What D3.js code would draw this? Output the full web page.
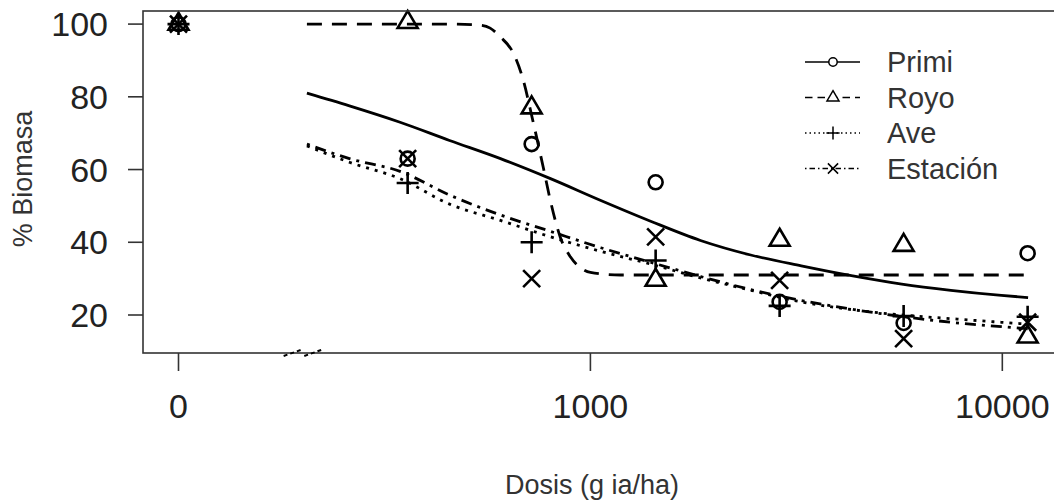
<!DOCTYPE html>
<html>
<head>
<meta charset="utf-8">
<script src="https://cdn.jsdelivr.net/npm/d3@7"></script>
<style>
  body { margin: 0; background: #fff; }
  svg text { font-family: "Liberation Sans", Arial, sans-serif; fill: #222; }
</style>
</head>
<body>
<div id="chart"></div>
<script>
// observed doses (0 = untreated control) and % biomass per cultivar
const doses    = [0, 360, 720, 1440, 2880, 5760, 11520];
const primi    = [100, 63, 67, 56.5, 23.6, 17.8, 37];
const royo     = [100, 100.5, 77, 29.6, 40.6, 39.2, 14];
const ave      = [100, 56.3, 40, 35, 22.5, 19.7, 19.5];
const estacion = [100, 63, 30, 41.5, 29.5, 13.5, 18];

// fitted curves
const curveDoses   = [205, 260, 345, 455, 605, 800, 1060, 1400, 1850, 2450, 3250, 4300, 5700, 7500, 9950, 11550];
const primiFit     = [81, 77.5, 73, 68, 63, 57.5, 51.5, 45.8, 40.5, 36.5, 33.5, 30.8, 28.5, 26.8, 25.4, 24.8];
const aveFit       = [66.5, 62, 57.5, 50.5, 46, 41.5, 37.5, 34, 30.2, 26.8, 23.6, 21.5, 20, 19, 18, 17.5];
const estacionFit  = [67, 63, 59.5, 53, 47.5, 43, 38.5, 34.5, 30.6, 27, 24, 21.6, 19.6, 18, 16.8, 16.2];
const royoDoses    = [205, 456, 540, 571, 604, 650, 687, 723, 768, 799, 845, 894, 946, 1000, 1183, 2000, 11550];
const royoFit      = [100, 100, 99.7, 98.9, 96.5, 92, 84.6, 74, 60.7, 51.6, 41.4, 36, 33, 31.7, 31, 31, 31];

const xTicks = [0, 1000, 10000];
const yTicks = [20, 40, 60, 80, 100];
const controlAt = 100; // where dose 0 sits on the log axis

const series = [
  { name: "Primi",    obs: primi,    fitX: curveDoses, fit: primiFit,    dash: null,          sym: "circle" },
  { name: "Royo",     obs: royo,     fitX: royoDoses,  fit: royoFit,     dash: "15,10",       sym: "triangle" },
  { name: "Ave",      obs: ave,      fitX: curveDoses, fit: aveFit,      dash: "3,6",         sym: "plus" },
  { name: "Estación", obs: estacion, fitX: curveDoses, fit: estacionFit, dash: "3,6,11,6",    sym: "times" }
];

const w = 1054, h = 503;
const box = { l: 143, t: 11, r: 1056, b: 353 };

const x = d3.scaleLog().domain([82, 13500]).range([box.l, box.r]);
const y = d3.scaleLinear().domain([9.55, 103.6]).range([box.b, box.t]);
const xd = (d) => x(d === 0 ? controlAt : d);

const svg = d3.select("#chart").append("svg")
  .attr("width", w)
  .attr("height", h);

//symbol paths like R pch 1..4
function symPath(type, s) {
  const p = d3.path();
  if (type === "circle") {
    p.moveTo(7 * s, 0); p.arc(0, 0, 7 * s, 0, 2 * Math.PI);
  } else if (type === "triangle") {
    const hw = 10 * s, th = 17 * s;
    p.moveTo(0, -th * 2 / 3); p.lineTo(hw, th / 3); p.lineTo(-hw, th / 3); p.closePath();
  } else if (type === "plus") {
    const a = 11 * s;
    p.moveTo(-a, 0); p.lineTo(a, 0); p.moveTo(0, -a); p.lineTo(0, a);
  } else {
    const b = 8.5 * s;
    p.moveTo(-b, -b); p.lineTo(b, b); p.moveTo(-b, b); p.lineTo(b, -b);
  }
  return p.toString();
}

//fitted curves
const line = d3.line().curve(d3.curveMonotoneX);
svg.append("g").selectAll("path")
  .data(series)
  .enter()
  .append("path")
  .attr("d", (s) => line(s.fitX.map((d, i) => [x(d), y(s.fit[i])])))
  .attr("fill", "none")
  .attr("stroke", "#000")
  .attr("stroke-width", 2.8)
  .attr("stroke-dasharray", (s) => s.dash);

//observed points
for (let s of series) {
  svg.append("g").selectAll("path")
    .data(doses)
    .enter()
    .append("path")
    .attr("d", symPath(s.sym, 1))
    .attr("transform", (d, i) => `translate(${xd(d)},${y(s.obs[i])})`)
    .attr("fill", "none")
    .attr("stroke", "#000")
    .attr("stroke-width", 2.6);
}

//box
svg.append("rect")
  .attr("x", box.l).attr("y", box.t)
  .attr("width", box.r - box.l).attr("height", box.b - box.t)
  .attr("fill", "none")
  .attr("stroke", "#333")
  .attr("stroke-width", 1.6);

//axis break marks
svg.append("path")
  .attr("d", `M${x(180)},${box.b + 3}L${x(198)},${box.b - 3}M${x(202)},${box.b + 3}L${x(222)},${box.b - 3}`)
  .attr("stroke", "#000")
  .attr("stroke-width", 2)
  .attr("stroke-dasharray", "4,3");

//y axis
const gy = svg.append("g");
gy.selectAll("line").data(yTicks).enter().append("line")
  .attr("x1", box.l - 15).attr("x2", box.l)
  .attr("y1", (d) => y(d)).attr("y2", (d) => y(d))
  .attr("stroke", "#333").attr("stroke-width", 1.6);
gy.selectAll("text").data(yTicks).enter().append("text")
  .attr("x", 108).attr("y", (d) => y(d) + 12)
  .attr("text-anchor", "end")
  .style("font-size", "34px")
  .text((d) => d);

//x axis
const gx = svg.append("g");
gx.selectAll("line").data(xTicks).enter().append("line")
  .attr("x1", (d) => xd(d)).attr("x2", (d) => xd(d))
  .attr("y1", box.b).attr("y2", box.b + 18)
  .attr("stroke", "#333").attr("stroke-width", 1.6);
gx.selectAll("text").data(xTicks).enter().append("text")
  .attr("x", (d) => xd(d)).attr("y", 418)
  .attr("text-anchor", "middle")
  .style("font-size", "34px")
  .text((d) => d);

//axis titles
svg.append("text")
  .attr("x", 592).attr("y", 494)
  .attr("text-anchor", "middle")
  .style("font-size", "27px")
  .style("fill", "#333")
  .text("Dosis (g ia/ha)");
svg.append("text")
  .attr("transform", "translate(32,179) rotate(-90)")
  .attr("text-anchor", "middle")
  .style("font-size", "27px")
  .style("fill", "#333")
  .text("% Biomasa");

//legend
const leg = svg.append("g").selectAll("g")
  .data(series)
  .enter()
  .append("g")
  .attr("transform", (d, i) => `translate(805,${62 + i * 35.5})`);
leg.append("line")
  .attr("x1", 0).attr("x2", 55)
  .attr("stroke", "#000").attr("stroke-width", 1.5)
  .attr("stroke-dasharray", (d) => d.dash ? d.dash.split(",").map((v) => v * 0.5).join(",") : null);
leg.append("path")
  .attr("d", (d) => symPath(d.sym, 0.6))
  .attr("transform", "translate(28,0)")
  .attr("fill", "#fff")
  .attr("stroke", "#000")
  .attr("stroke-width", 1.5);
leg.append("text")
  .attr("x", 82).attr("y", 10)
  .style("font-size", "29px")
  .style("fill", "#333")
  .text((d) => d.name);
</script>
</body>
</html>
